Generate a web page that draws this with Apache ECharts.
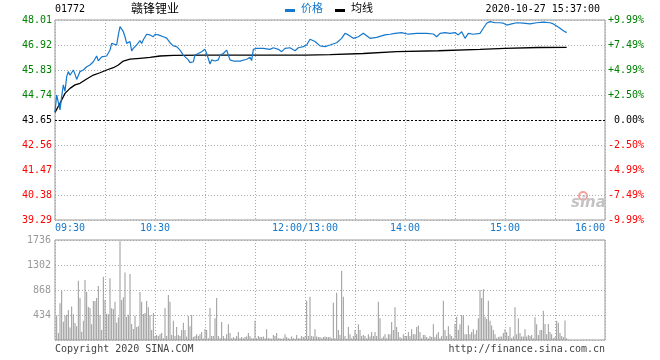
<!DOCTYPE html>
<html><head><meta charset="utf-8">
<script src="https://cdn.jsdelivr.net/npm/echarts@6/dist/echarts.min.js"></script>
<style>html,body{margin:0;padding:0;background:#fff}#c{width:660px;height:360px}</style>
</head><body><div id="c"></div>
<script>
const prevClose = 43.65;
const priceMin = 39.29, priceMax = 48.01, priceStep = 1.09;
const volMax = 1736, volStep = 434;
const tickMinutes = [0, 60, 150, 210, 270, 330];
const tickLabels = ['09:30', '10:30', '12:00/13:00', '14:00', '15:00', '16:00'];

const priceMinutes = [0,1,3,4,5,6,7,8,9,11,12,13,15,17,19,21,23,25,26,28,29,31,33,34,35,37,38,39,41,42,43,45,46,47,49,51,52,53,55,57,59,60,62,65,67,69,71,73,75,77,78,80,81,83,84,86,88,90,91,93,94,96,98,99,101,103,104,105,107,111,115,117,118,119,121,125,129,131,134,136,138,141,144,146,149,151,153,156,159,162,165,
169,172,174,176,179,182,185,187,189,193,198,201,204,208,212,217,223,227,229,231,234,237,240,242,244,246,248,251,255,257,259,261,264,267,269,271,272,274,277,281,285,289,293,297,299,301,303,305,307];
const priceValues = [44.00,44.74,44.09,44.67,45.18,44.90,45.54,45.76,45.60,45.83,45.65,45.42,45.76,45.83,45.97,46.05,46.19,46.44,46.23,46.40,46.34,46.44,46.70,46.99,47.07,46.92,47.36,47.72,47.50,47.28,46.99,47.07,46.66,46.77,46.92,47.11,46.99,47.15,47.39,47.36,47.28,47.39,47.36,47.28,47.22,47.02,46.88,46.85,46.70,46.48,46.48,46.27,46.15,46.19,46.48,46.55,46.63,46.73,46.55,46.09,46.27,46.22,46.27,46.48,46.55,46.70,46.48,46.27,46.22,46.22,46.30,46.38,46.24,46.73,46.77,46.77,46.73,46.80,46.73,46.63,46.77,46.80,46.67,46.80,46.85,46.92,47.17,47.07,46.88,46.85,46.92,
47.02,47.21,47.43,47.36,47.21,47.28,47.43,47.32,47.21,47.25,47.36,47.39,47.43,47.46,47.39,47.43,47.43,47.40,47.28,47.43,47.46,47.43,47.46,47.36,47.50,47.21,47.43,47.39,47.43,47.65,47.87,47.94,47.89,47.89,47.87,47.79,47.87,47.84,47.89,47.87,47.84,47.89,47.92,47.89,47.84,47.75,47.65,47.54,47.46];

const avgMinutes = [0,3,6,9,12,15,19,23,27,31,35,38,41,45,51,57,63,71,90,120,150,165,185,205,230,255,270,290,307];
const avgValues = [43.98,44.38,44.81,45.03,45.18,45.25,45.44,45.61,45.71,45.83,45.93,46.05,46.22,46.30,46.34,46.38,46.44,46.47,46.48,46.48,46.48,46.50,46.55,46.63,46.67,46.73,46.77,46.81,46.82];

// volume per minute, starting at minute 1
const volumeStartMinute = 1;
const volumes = [430,120,640,850,318,420,440,520,215,580,445,295,240,1030,730,145,335,1040,833,575,555,272,677,677,730,937,434,174,1100,694,457,445,1070,550,538,665,300,393,1720,694,740,1170,405,440,1146,278,190,420,225,240,833,665,450,470,677,567,434,174,470,70,85,70,100,120,30,555,70,781,665,85,335,70,225,85,70,174,300,174,60,417,240,434,50,70,100,70,100,140,30,190,174,30,555,70,70,376,730,70,30,312,70,30,100,272,120,30,50,30,70,140,30,50,30,50,60,120,70,30,30,335,30,70,50,50,60,30,185,30,30,20,85,70,120,30,30,20,30,100,50,30,20,60,30,20,85,30,30,70,50,60,682,70,752,70,60,185,60,50,50,30,50,60,50,50,
50,30,648,30,821,174,85,1203,752,70,20,225,100,30,70,174,100,272,174,70,85,70,30,100,60,140,70,140,70,665,376,30,60,100,30,100,100,312,174,567,225,140,50,30,100,70,70,140,70,185,100,100,225,250,140,30,85,85,50,30,70,50,272,50,100,140,30,70,682,174,70,240,100,70,30,278,405,174,272,434,417,100,100,250,100,140,185,100,174,376,868,730,880,405,365,682,335,250,174,100,30,50,60,60,120,185,140,70,225,30,60,567,100,376,120,60,60,185,60,85,70,85,30,395,272,85,174,174,509,278,100,278,140,100,30,50,335,300,120,70,50,340,30];

const MONO = '"DejaVu Sans Mono", "Liberation Mono", monospace';
const CJK = '"Noto Sans CJK SC", sans-serif';
const GREEN = '#008000', RED = '#ff0000';
const BLUE = '#1578cc';

function colorFor(v) {
  v = parseFloat(v);
  if (v > prevClose + 0.005) return GREEN;
  if (v < prevClose - 0.005) return RED;
  return '#000';
}

const chart = echarts.init(document.getElementById('c'), null, {renderer: 'canvas'});
const splitDotted = {show: true, lineStyle: {color: '#aaa', type: [1, 2], width: 1}};

chart.setOption({
  animation: false,
  backgroundColor: '#fff',
  grid: [
    {left: 55, top: 20, width: 550, height: 200, show: true, borderColor: '#999', borderWidth: 1, backgroundColor: 'transparent'},
    {left: 55, top: 240, width: 550, height: 100, show: true, borderColor: '#999', borderWidth: 1, backgroundColor: 'transparent'}
  ],
  xAxis: [
    {
      type: 'value', gridIndex: 0, min: 0, max: 330, interval: 30,
      axisLine: {show: false}, axisTick: {show: false},
      splitLine: splitDotted,
      axisLabel: {
        show: true, margin: 3, color: BLUE, fontFamily: MONO, fontSize: 10,
        showMinLabel: true, showMaxLabel: true,
        alignMinLabel: 'left', alignMaxLabel: 'right',
        formatter: function (v) {
          const i = tickMinutes.indexOf(Math.round(v));
          return i >= 0 ? tickLabels[i] : '';
        }
      }
    },
    {
      type: 'value', gridIndex: 1, min: 0, max: 330, interval: 30,
      axisLine: {show: false}, axisTick: {show: false},
      splitLine: splitDotted, axisLabel: {show: false}
    }
  ],
  yAxis: [
    {
      type: 'value', gridIndex: 0, min: priceMin, max: priceMax, interval: priceStep,
      axisLine: {show: false}, axisTick: {show: false},
      splitLine: splitDotted,
      axisLabel: {
        margin: 3, fontFamily: MONO, fontSize: 10, padding: [0, 0, 5, 0],
        color: function (v) { return colorFor(v); },
        formatter: function (v) { return (+v).toFixed(2); }
      }
    },
    {
      type: 'value', gridIndex: 0, position: 'right', min: priceMin, max: priceMax, interval: priceStep,
      axisLine: {show: false}, axisTick: {show: false}, splitLine: {show: false},
      axisLabel: {
        margin: 3, fontFamily: MONO, fontSize: 10, padding: [0, 0, 5, 0],
        color: function (v) { return colorFor(v); },
        formatter: function (v) {
          const p = (v - prevClose) / prevClose * 100;
          const s = Math.abs(p).toFixed(2) + '%';
          if (Math.abs(p) < 0.005) return '\u00a00.00%';
          return (p > 0 ? '+' : '-') + s;
        }
      }
    },
    {
      type: 'value', gridIndex: 1, min: 0, max: volMax, interval: volStep,
      axisLine: {show: false}, axisTick: {show: false},
      splitLine: splitDotted,
      axisLabel: {
        margin: 4, fontFamily: MONO, fontSize: 10, color: '#999', padding: [0, 0, 6, 0],
        formatter: function (v) { return v === 0 ? '' : String(v); }
      }
    }
  ],
  series: [
    {
      type: 'bar', xAxisIndex: 1, yAxisIndex: 2, barWidth: 1,
      itemStyle: {color: '#999'},
      data: volumes.map((v, i) => [i + volumeStartMinute, v])
    },
    {
      type: 'line', xAxisIndex: 0, yAxisIndex: 0, showSymbol: false, symbol: 'none',
      lineStyle: {color: '#000', width: 1.3},
      data: avgMinutes.map((m, i) => [m, avgValues[i]]),
      z: 3
    },
    {
      type: 'line', xAxisIndex: 0, yAxisIndex: 0, showSymbol: false, symbol: 'none',
      lineStyle: {color: BLUE, width: 1.2},
      data: priceMinutes.map((m, i) => [m, priceValues[i]]),
      markLine: {
        silent: true, symbol: 'none', label: {show: false},
        lineStyle: {color: '#000', type: [2, 2], width: 1},
        data: [{yAxis: prevClose}]
      },
      z: 4
    }
  ],
  graphic: [
    {type: 'text', left: 55, top: 4, style: {text: '01772', font: '10px ' + MONO, fill: '#000'}},
    {type: 'text', left: 131, top: 2, style: {text: '赣锋锂业', font: '12px ' + CJK, fill: '#000'}},
    {type: 'rect', shape: {x: 285, y: 9, width: 10, height: 3}, style: {fill: BLUE}},
    {type: 'text', left: 301, top: 2, style: {text: '价格', font: '11px ' + CJK, fill: BLUE}},
    {type: 'rect', shape: {x: 335, y: 9, width: 10, height: 3}, style: {fill: '#000'}},
    {type: 'text', left: 351, top: 2, style: {text: '均线', font: '11px ' + CJK, fill: '#000'}},
    {type: 'text', right: 60, top: 4, style: {text: '2020-10-27 15:37:00', font: '10px ' + MONO, fill: '#000'}},
    {type: 'circle', shape: {cx: 583, cy: 196, r: 4}, style: {fill: 'none', stroke: '#f4a0a0', lineWidth: 2}},
    {type: 'text', left: 571, top: 196, style: {text: 'sina', font: 'italic bold 15px "DejaVu Sans", sans-serif', fill: '#c4c4c4'}},
    {type: 'text', left: 55, top: 344, style: {text: 'Copyright 2020 SINA.COM', font: '10px ' + MONO, fill: '#444'}},
    {type: 'text', right: 55, top: 344, style: {text: 'http://finance.sina.com.cn', font: '10px ' + MONO, fill: '#444'}}
  ]
});
</script></body></html>
